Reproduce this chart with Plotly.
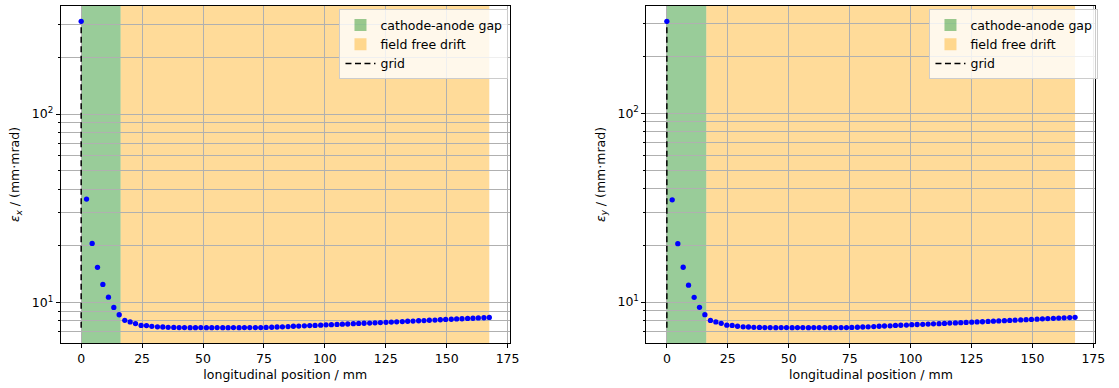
import numpy as np
import plotly.graph_objects as go

# longitudinal positions of the emittance samples (mm)
z_mm = [0.0, 2.2, 4.5, 6.7, 8.9, 11.2, 13.4, 15.6, 17.9, 20.1,
        22.3, 24.6, 26.8, 29.0, 31.3, 33.5, 35.7, 38.0, 40.2, 42.4,
        44.7, 46.9, 49.1, 51.4, 53.6, 55.8, 58.1, 60.3, 62.5, 64.8,
        67.0, 69.2, 71.5, 73.7, 75.9, 78.2, 80.4, 82.6, 84.9, 87.1,
        89.3, 91.6, 93.8, 96.0, 98.3, 100.5, 102.7, 105.0, 107.2, 109.4,
        111.7, 113.9, 116.1, 118.4, 120.6, 122.8, 125.1, 127.3, 129.5, 131.8,
        134.0, 136.2, 138.5, 140.7, 142.9, 145.2, 147.4, 149.6, 151.9, 154.1,
        156.3, 158.6, 160.8, 163.0, 165.3, 167.5]

# horizontal emittance (mm·mrad)
eps_x = [310, 35.4, 20.6, 15.4, 12.5, 10.7, 9.44, 8.63, 8.06, 7.91,
         7.75, 7.58, 7.56, 7.49, 7.45, 7.43, 7.40, 7.39, 7.38, 7.38,
         7.37, 7.37, 7.38, 7.37, 7.37, 7.38, 7.37, 7.37, 7.38, 7.37,
         7.38, 7.38, 7.38, 7.38, 7.39, 7.41, 7.43, 7.45, 7.47, 7.50,
         7.52, 7.54, 7.56, 7.58, 7.60, 7.63, 7.65, 7.67, 7.69, 7.71,
         7.74, 7.76, 7.78, 7.80, 7.82, 7.84, 7.87, 7.89, 7.92, 7.94,
         7.97, 7.99, 8.02, 8.04, 8.07, 8.09, 8.12, 8.15, 8.17, 8.20,
         8.22, 8.25, 8.27, 8.30, 8.32, 8.35]

# vertical emittance (mm·mrad)
eps_y = [307, 34.8, 20.4, 15.3, 12.3, 10.6, 9.38, 8.58, 8.00, 7.85,
         7.72, 7.55, 7.52, 7.45, 7.40, 7.38, 7.35, 7.34, 7.33, 7.33,
         7.32, 7.33, 7.33, 7.32, 7.33, 7.33, 7.32, 7.33, 7.33, 7.33,
         7.32, 7.33, 7.33, 7.33, 7.34, 7.36, 7.38, 7.40, 7.42, 7.45,
         7.47, 7.49, 7.52, 7.54, 7.56, 7.59, 7.61, 7.63, 7.65, 7.67,
         7.69, 7.71, 7.74, 7.76, 7.78, 7.80, 7.83, 7.85, 7.87, 7.90,
         7.92, 7.95, 7.97, 8.00, 8.02, 8.05, 8.07, 8.10, 8.12, 8.15,
         8.18, 8.20, 8.23, 8.26, 8.28, 8.31]

# beamline regions (mm)
gap_start, gap_end = 0.0, 16.2
drift_start, drift_end = 16.2, 167.5
grid_pos = 0.0

x_ticks = [0, 25, 50, 75, 100, 125, 150, 175]

FONT = "DejaVu Sans"
FS = 12.5
GAP_COLOR = "rgba(0,128,0,0.4)"
DRIFT_COLOR = "rgba(255,165,0,0.4)"
GRID = "#b0b0b0"

fig = go.Figure()


def padded(lo, hi, frac=0.05):
    span = hi - lo
    return [lo - frac * span, hi + frac * span]


x_range = padded(min(z_mm), max(z_mm))

panels = [
    ("x", "y", "legend", eps_x, "<i>ε</i><sub><i>x</i></sub> / (mm·mrad)"),
    ("x2", "y2", "legend2", eps_y, "<i>ε</i><sub><i>y</i></sub> / (mm·mrad)"),
]

domains = [[0.0548, 0.4596], [0.5829, 0.9878]]

for k, (xa, ya, leg, eps, ytitle) in enumerate(panels):
    lo, hi = min(eps), max(eps)
    y_range = padded(np.log10(lo), np.log10(hi))

    # shaded regions (drawn under the grid)
    for name, x0, x1, col, rank in [
        ("cathode-anode gap", gap_start, gap_end, GAP_COLOR, 1),
        ("field free drift", drift_start, drift_end, DRIFT_COLOR, 2),
    ]:
        fig.add_shape(type="rect", xref=xa, yref=f"{ya} domain",
                      x0=x0, x1=x1, y0=0, y1=1,
                      fillcolor=col, line=dict(width=0), layer="below",
                      showlegend=True, name=name, legend=leg,
                      legendrank=rank)

    # grid position marker
    fig.add_trace(go.Scatter(
        x=[grid_pos, grid_pos], y=[lo, hi], mode="lines",
        line=dict(color="black", width=1.5, dash="6px,3.5px"),
        name="grid", xaxis=xa, yaxis=ya, legend=leg, legendrank=3,
        showlegend=True, hoverinfo="skip"))

    fig.add_trace(go.Scatter(
        x=z_mm, y=eps, mode="markers",
        marker=dict(color="blue", size=5.3, line=dict(width=0)),
        xaxis=xa, yaxis=ya, showlegend=False))

    xkey = "xaxis" if k == 0 else "xaxis2"
    ykey = "yaxis" if k == 0 else "yaxis2"
    minor_vals = [m * 10 ** e for e in (0, 1, 2) for m in range(2, 10)]
    fig.update_layout({
        xkey: dict(domain=domains[k], anchor=ya, range=x_range,
                   tickvals=x_ticks, ticks="outside", ticklen=4,
                   tickwidth=1, tickcolor="black",
                   showgrid=True, gridcolor=GRID, gridwidth=0.8,
                   zeroline=False, showline=True, linecolor="black",
                   linewidth=1, mirror=True,
                   tickfont=dict(family=FONT, size=FS, color="black"),
                   title=dict(text="longitudinal position / mm",
                              font=dict(family=FONT, size=FS, color="black"),
                              standoff=5)),
        ykey: dict(domain=[0, 1], anchor=xa, type="log", range=y_range,
                   tickvals=[10, 100],
                   ticktext=["10<sup>1</sup>", "10<sup>2</sup>"],
                   ticks="outside", ticklen=4, tickwidth=1,
                   tickcolor="black",
                   showgrid=True, gridcolor=GRID, gridwidth=0.8,
                   minor=dict(tickvals=minor_vals, ticks="outside",
                              ticklen=2, tickcolor="black", showgrid=True,
                              gridcolor=GRID, gridwidth=0.8),
                   zeroline=False, showline=True, linecolor="black",
                   linewidth=1, mirror=True,
                   tickfont=dict(family=FONT, size=FS, color="black"),
                   title=dict(text=ytitle,
                              font=dict(family=FONT, size=FS, color="black"),
                              standoff=9)),
    })

legend_style = dict(
    bgcolor="rgba(255,255,255,0.8)", bordercolor="#cccccc", borderwidth=1,
    font=dict(family=FONT, size=FS, color="black"),
    xanchor="right", yanchor="top", y=0.99, traceorder="normal",
    itemwidth=30, tracegroupgap=0,
)

fig.update_layout(
    width=1119, height=388,
    margin=dict(l=0, r=0, t=6, b=45),
    paper_bgcolor="white", plot_bgcolor="white",
    font=dict(family=FONT, size=FS, color="black"),
    legend=dict(legend_style, x=0.4585),
    legend2=dict(legend_style, x=0.9905),
)

fig.write_html("out.html")
